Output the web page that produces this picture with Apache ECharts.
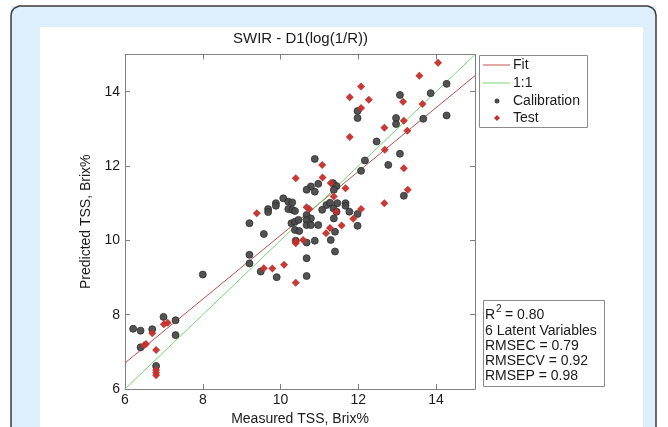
<!DOCTYPE html>
<html><head><meta charset="utf-8">
<script src="https://cdn.jsdelivr.net/npm/echarts/dist/echarts.min.js"></script>
<style>html,body{margin:0;padding:0;background:#fff;overflow:hidden}#c{width:668px;height:427px}</style>
</head><body><div id="c"></div>
<script>
const chartTitle = 'SWIR - D1(log(1/R))';
const xAxisName = 'Measured TSS, Brix%';
const yAxisName = 'Predicted TSS, Brix%';
const axisMin = 6, axisMax = 15, axisStep = 2;
const seriesNames = ['Fit', '1:1', 'Calibration', 'Test'];
const fitLine = [[6, 6.70], [15, 14.43]];
const oneToOne = [[6, 6], [15, 15]];
const calibration = [
  [6.21,7.62],[6.40,7.57],[6.70,7.61],[6.99,7.94],[7.30,7.85],[7.30,7.45],[6.40,7.12],[6.80,6.62],[8.00,9.08],
  [9.20,10.46],[9.20,9.61],[9.20,9.38],[9.49,9.16],[9.57,10.17],[9.90,9.01],
  [9.68,10.84],[9.68,10.76],[9.88,11.00],[9.88,10.93],[10.07,11.13],[10.20,11.04],[10.30,11.02],
  [10.20,10.84],[10.30,10.82],[10.37,10.79],
  [10.28,10.46],[10.37,10.50],[10.46,10.55],[10.37,10.28],[10.48,10.25],[10.39,9.99],
  [10.67,10.68],[10.78,10.59],[10.67,10.55],[10.67,10.41],[10.78,10.41],[10.97,10.41],
  [10.67,9.94],[10.88,9.99],[10.67,9.52],[10.67,9.04],
  [10.88,12.19],[10.97,11.52],[10.78,11.45],[10.67,11.36],[10.88,11.31],
  [11.07,10.82],[11.18,10.95],[11.27,11.01],[11.36,10.86],[11.44,10.77],[11.46,11.00],
  [11.35,11.54],[11.44,11.46],[11.37,11.36],[11.67,11.00],[11.67,10.93],
  [11.37,10.59],[11.29,10.01],[11.40,10.23],[11.40,9.70],
  [11.77,10.77],[11.98,10.71],[11.98,10.39],
  [12.07,11.87],[12.17,12.15],[12.77,12.03],[13.07,12.33],[13.17,11.20],[12.47,12.66],
  [11.98,13.48],[11.98,13.29],[12.97,13.29],[12.97,13.13],[13.07,13.91],[13.67,13.27],[13.86,13.96],[14.27,14.21],[14.27,13.36]
];
const test = [
  [6.70,7.50],[6.49,7.18],[6.54,7.21],[7.00,7.74],[7.10,7.78],[6.80,7.05],[6.80,6.51],[6.80,6.44],[6.80,6.37],
  [9.39,10.73],[9.57,9.25],[9.79,9.24],[10.09,9.34],[10.39,8.86],[10.39,9.97],[10.39,9.92],[10.58,10.01],
  [10.39,11.67],[11.07,12.03],[11.08,11.69],[11.29,11.54],[11.37,11.18],[10.67,10.89],[10.74,10.84],[11.43,10.77],
  [11.27,10.33],[11.17,10.19],[11.67,11.40],[11.57,10.40],[11.87,10.58],[12.07,10.84],
  [12.68,12.44],[12.67,11.00],[13.17,11.94],[13.27,11.36],
  [11.78,12.78],[11.78,13.85],[12.07,14.14],[12.27,13.78],[12.07,13.56],[12.67,13.03],[13.15,13.73],[13.17,13.22],[13.26,12.95],[13.65,13.67],[13.57,14.43],[14.05,14.78]
];
const statLines = ['6 Latent Variables', 'RMSEC = 0.79', 'RMSECV = 0.92', 'RMSEP = 0.98'];
const r2Value = '= 0.80';

const FONT = '"Liberation Sans", Arial, Helvetica, sans-serif';
const fitColor = '#c0504d', oneColor = '#72d872', calColor = '#4a4a4a', testColor = '#c3302c';
const axisColor = '#7f7f7f', textColor = '#1a1a1a';

function mkAxis(pos, isX, main) {
  return {
    type: 'value', position: pos, min: axisMin, max: axisMax, interval: axisStep,
    name: main ? (isX ? xAxisName : yAxisName) : '',
    nameLocation: 'middle', nameGap: isX ? 16 : 32,
    nameTextStyle: {fontFamily: FONT, fontSize: 14, color: textColor},
    axisLine: {show: true, onZero: false, lineStyle: {color: axisColor, width: 1}},
    axisTick: {show: true, inside: true, length: 5, lineStyle: {color: axisColor}},
    axisLabel: {show: main, showMaxLabel: false, margin: isX ? 4 : 5, fontFamily: FONT, fontSize: 14, color: textColor},
    splitLine: {show: false}
  };
}
const font14 = '14px ' + FONT;
function txt(t, x, y) {
  return {type: 'text', z: 20, style: {text: t, x: x, y: y, font: font14, fill: textColor, verticalAlign: 'middle'}};
}
const chart = echarts.init(document.getElementById('c'), null, {renderer: 'canvas'});
chart.setOption({
  animation: false,
  backgroundColor: '#ffffff',
  title: {text: chartTitle, left: 233, top: 31, padding: 0,
    textStyle: {fontFamily: FONT, fontSize: 15, fontWeight: 'normal', color: textColor}},
  grid: {left: 125, top: 54.5, width: 350, height: 334.5, containLabel: false, outerBoundsMode: 'none'},
  xAxis: [mkAxis('bottom', true, true), mkAxis('top', true, false)],
  yAxis: [mkAxis('left', false, true), mkAxis('right', false, false)],
  series: [
    {name: seriesNames[0], type: 'line', data: fitLine, symbol: 'none', z: 2, lineStyle: {color: fitColor, width: 1}, itemStyle: {color: fitColor}},
    {name: seriesNames[1], type: 'line', data: oneToOne, symbol: 'none', z: 2, lineStyle: {color: oneColor, width: 1}, itemStyle: {color: oneColor}},
    {name: seriesNames[2], type: 'scatter', data: calibration, symbol: 'circle', symbolSize: 7, z: 3,
      itemStyle: {color: calColor, borderColor: '#2a2a2a', borderWidth: 0.8, opacity: 0.95}},
    {name: seriesNames[3], type: 'scatter', data: test, symbol: 'diamond', symbolSize: 8, z: 4,
      itemStyle: {color: testColor, opacity: 0.95}}
  ],
  graphic: [
    {type: 'rect', z: -10, shape: {x: 11, y: 6, width: 645, height: 421}, style: {fill: '#ddeffa'}},
    {type: 'rect', z: -9, shape: {x: 40, y: 27, width: 603, height: 400}, style: {fill: '#ffffff'}},
    {type: 'line', z: -8, shape: {x1: 11, y1: 15, x2: 11, y2: 700}, style: {stroke: '#3a3a3a', lineWidth: 1.5}},
    {type: 'line', z: -8, shape: {x1: 656, y1: 15, x2: 656, y2: 700}, style: {stroke: '#3a3a3a', lineWidth: 1.5}},
    {type: 'polyline', z: -8, shape: {points: [[11,15],[12,11],[14.5,8],[19,6],[648,6],[652.5,8],[655,11],[656,15]]},
      style: {fill: null, stroke: '#3a3a3a', lineWidth: 1.5}},
    // legend box
    {type: 'rect', z: 19, shape: {x: 479.5, y: 55.5, width: 108, height: 72}, style: {fill: '#fff', stroke: '#8a8a8a', lineWidth: 1}},
    {type: 'line', z: 20, shape: {x1: 483, y1: 65, x2: 510, y2: 65}, style: {stroke: fitColor, lineWidth: 1}},
    txt(seriesNames[0], 513, 65),
    {type: 'line', z: 20, shape: {x1: 483, y1: 83, x2: 510, y2: 83}, style: {stroke: oneColor, lineWidth: 1}},
    txt(seriesNames[1], 513, 83),
    {type: 'circle', z: 20, shape: {cx: 497, cy: 101, r: 2.5}, style: {fill: calColor}},
    txt(seriesNames[2], 513, 101),
    {type: 'polygon', z: 20, shape: {points: [[497, 115], [500, 118], [497, 121], [494, 118]]}, style: {fill: testColor}},
    txt(seriesNames[3], 513, 118),
    // stats box
    {type: 'rect', z: 19, shape: {x: 483.5, y: 300.5, width: 121, height: 86}, style: {fill: '#fff', stroke: '#8a8a8a', lineWidth: 1}},
    txt('R', 485, 315),
    {type: 'text', z: 20, style: {text: '2', x: 496, y: 309, font: '10px ' + FONT, fill: textColor, verticalAlign: 'middle'}},
    txt(r2Value, 505, 315),
    txt(statLines[0], 485, 331),
    txt(statLines[1], 485, 346),
    txt(statLines[2], 485, 361),
    txt(statLines[3], 485, 376)
  ]
});
</script></body></html>
